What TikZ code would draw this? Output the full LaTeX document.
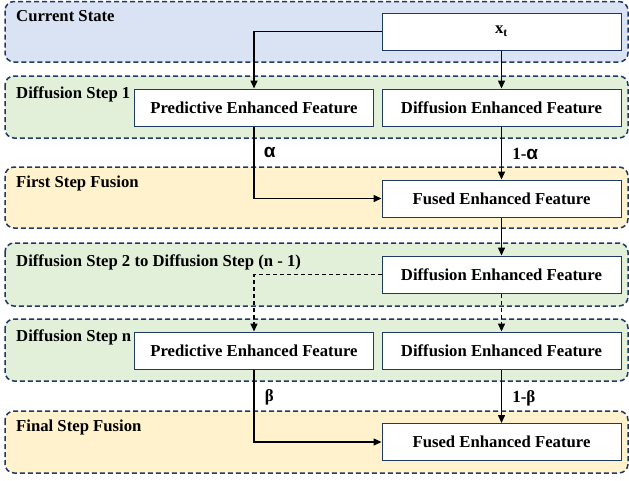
\documentclass[tikz,border=0pt]{standalone}
\usepackage{fontspec}
\setmainfont{Liberation Serif}
\newfontfamily\greekfont{Liberation Sans}
\usetikzlibrary{arrows.meta}
\definecolor{navy}{HTML}{203864}
\definecolor{stateblue}{HTML}{DAE3F3}
\definecolor{stepgreen}{HTML}{E2F0D9}
\definecolor{fuseyellow}{HTML}{FFF2CC}
\newcommand{\alphasym}{{\greekfont\fontsize{19}{20}\selectfont α}}

\begin{document}
\begin{tikzpicture}[x=1pt, y=-1pt,
  panel/.style={draw=navy, line width=1.5pt, dash pattern=on 5pt off 3pt, rounded corners=9pt},
  feat/.style={draw=navy, line width=1pt, fill=white, minimum width=239pt, minimum height=37pt, inner sep=0pt, font=\fontsize{16.7}{20}\selectfont\bfseries},
  title/.style={anchor=west, inner sep=0pt, font=\fontsize{16.7}{20}\selectfont\bfseries},
  weight/.style={anchor=west, inner sep=0pt, font=\fontsize{17}{20}\selectfont\bfseries},
  link/.style={line width=1.5pt, -{Triangle[length=8pt,width=7pt]}},
  dashlink/.style={link, dash pattern=on 4pt off 3pt}]
\useasboundingbox (0,0) rectangle (629,480);
% panels
\draw[panel, fill=stateblue] (5,1.5) rectangle (628,62);
\draw[panel, fill=stepgreen] (5,76) rectangle (628,138);
\draw[panel, fill=fuseyellow] (5,167) rectangle (628,228);
\draw[panel, fill=stepgreen] (5,243) rectangle (628,306);
\draw[panel, fill=stepgreen] (5,319) rectangle (628,381);
\draw[panel, fill=fuseyellow] (5,411) rectangle (628,473);
\node[title] (t1) at (16,16) {Current State};
\node[title] (t2) at (16,94) {Diffusion Step 1};
\node[title] (t3) at (16,183) {First Step Fusion};
\node[title] (t4) at (16,262) {Diffusion Step 2 to Diffusion Step (n - 1)};
\node[title] (t5) at (16,337) {Diffusion Step n};
\node[title] (t6) at (16,427) {Final Step Fusion};
% features
\node[feat] (x) at (501.5,31.5) {x\textsubscript{t}};
\node[feat] (p1) at (254,107.5) {Predictive Enhanced Feature};
\node[feat] (d1) at (501.5,107.5) {Diffusion Enhanced Feature};
\node[feat] (f1) at (501.5,198.5) {Fused Enhanced Feature};
\node[feat] (d2) at (501.5,274.5) {Diffusion Enhanced Feature};
\node[feat] (pn) at (254,350.5) {Predictive Enhanced Feature};
\node[feat] (dn) at (501.5,350.5) {Diffusion Enhanced Feature};
\node[feat] (fn) at (501.5,442) {Fused Enhanced Feature};
% links
\draw[link] (x.west) -| (p1.north);
\draw[link] (x.south) -- (d1.north);
\draw[link] (p1.south) |- node[weight, pos=0.18, xshift=9pt] {\alphasym} (f1.west);
\draw[link] (d1.south) -- node[weight, pos=0.52, xshift=10pt] {1-\alphasym} (f1.north);
\draw[link] (f1.south) -- (d2.north);
\draw[dashlink] (d2.west) -| (pn.north);
\draw[dashlink] (d2.south) -- (dn.north);
\draw[link] (pn.south) |- node[weight, pos=0.19, xshift=10pt] {β} (fn.west);
\draw[link] (dn.south) -- node[weight, pos=0.54, xshift=10pt] {1-β} (fn.north);
\end{tikzpicture}
\end{document}
